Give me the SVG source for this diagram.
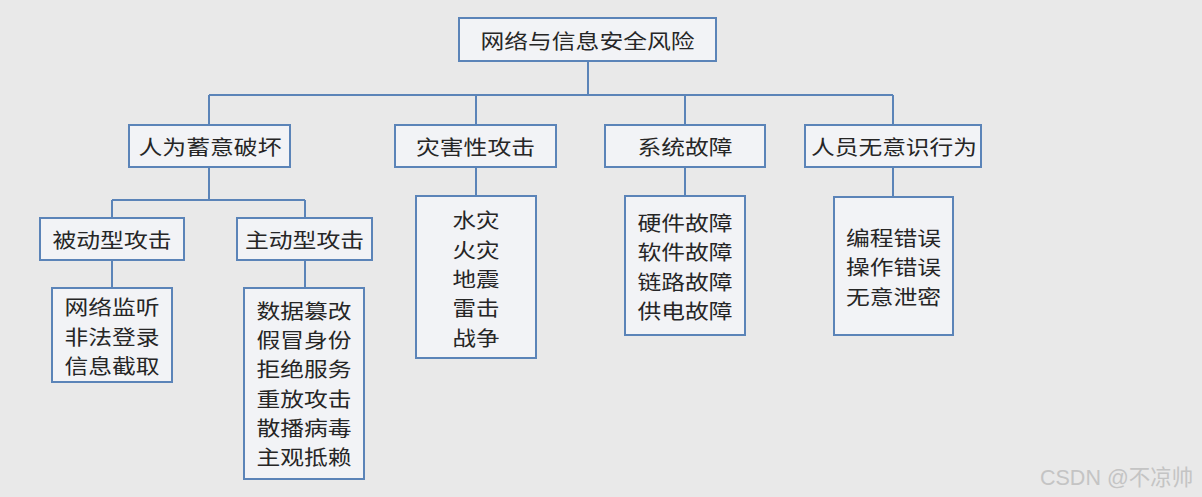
<svg xmlns="http://www.w3.org/2000/svg" width="1202" height="497" viewBox="0 0 1202 497">
<style>
.box{fill:#f2f3f6;stroke:#5b84b8;stroke-width:2}
.ln{fill:none;stroke:#5b84b8;stroke-width:2}
.t{font-family:"Noto Sans CJK SC","Noto Sans CJK JP",sans-serif;font-size:20px;fill:#262626;text-anchor:middle;dominant-baseline:central}
.wm{font-family:"Liberation Sans","Noto Sans CJK SC",sans-serif;font-size:21.5px;fill:#c4c4c4}
</style>
<rect width="1202" height="497" fill="#e9e9e9"/>
<g id="connectors">
<path class="ln" d="M588 61V95M209 95H893M209 95V125M476 95V125M685 95V125M893 95V125"/>
<path class="ln" d="M209 167V200M112 200H305M112 200V218M305 200V218"/>
<path class="ln" d="M112 260V288M305 260V288M476 167V196M685 167V196M893 167V197"/>
</g>
<g id="root">
<rect class="box" x="459" y="18" width="257" height="43"/>
<text class="t" x="587.5" y="40" textLength="214" lengthAdjust="spacingAndGlyphs">网络与信息安全风险</text>
</g>
<g id="n-human">
<rect class="box" x="129" y="125" width="161" height="42"/>
<text class="t" x="210" y="146.5" textLength="143" lengthAdjust="spacingAndGlyphs">人为蓄意破坏</text>
</g>
<g id="n-disaster">
<rect class="box" x="395" y="125" width="161" height="42"/>
<text class="t" x="475.5" y="146.5" textLength="119" lengthAdjust="spacingAndGlyphs">灾害性攻击</text>
</g>
<g id="n-system">
<rect class="box" x="605" y="125" width="160" height="42"/>
<text class="t" x="685" y="146.5" textLength="95" lengthAdjust="spacingAndGlyphs">系统故障</text>
</g>
<g id="n-staff">
<rect class="box" x="805" y="125" width="176" height="42"/>
<text class="t" x="894" y="146.5" textLength="166" lengthAdjust="spacingAndGlyphs">人员无意识行为</text>
</g>
<g id="n-passive">
<rect class="box" x="40" y="218" width="144" height="42"/>
<text class="t" x="112" y="239.5" textLength="119" lengthAdjust="spacingAndGlyphs">被动型攻击</text>
</g>
<g id="n-active">
<rect class="box" x="237" y="218" width="135" height="42"/>
<text class="t" x="304.5" y="239.5" textLength="119" lengthAdjust="spacingAndGlyphs">主动型攻击</text>
</g>
<g id="l-passive">
<rect class="box" x="52" y="288" width="120" height="94"/>
<text class="t" x="112" y="306.5" textLength="95" lengthAdjust="spacingAndGlyphs">网络监听</text>
<text class="t" x="112" y="336" textLength="95" lengthAdjust="spacingAndGlyphs">非法登录</text>
<text class="t" x="112" y="365" textLength="95" lengthAdjust="spacingAndGlyphs">信息截取</text>
</g>
<g id="l-active">
<rect class="box" x="244" y="288" width="120" height="191"/>
<text class="t" x="304" y="310" textLength="95" lengthAdjust="spacingAndGlyphs">数据篡改</text>
<text class="t" x="304" y="339.3" textLength="95" lengthAdjust="spacingAndGlyphs">假冒身份</text>
<text class="t" x="304" y="368.6" textLength="95" lengthAdjust="spacingAndGlyphs">拒绝服务</text>
<text class="t" x="304" y="398" textLength="95" lengthAdjust="spacingAndGlyphs">重放攻击</text>
<text class="t" x="304" y="427.3" textLength="95" lengthAdjust="spacingAndGlyphs">散播病毒</text>
<text class="t" x="304" y="456.6" textLength="95" lengthAdjust="spacingAndGlyphs">主观抵赖</text>
</g>
<g id="l-disaster">
<rect class="box" x="416" y="196" width="120" height="162"/>
<text class="t" x="476" y="219.5" textLength="47" lengthAdjust="spacingAndGlyphs">水灾</text>
<text class="t" x="476" y="249" textLength="47" lengthAdjust="spacingAndGlyphs">火灾</text>
<text class="t" x="476" y="278" textLength="47" lengthAdjust="spacingAndGlyphs">地震</text>
<text class="t" x="476" y="307.5" textLength="47" lengthAdjust="spacingAndGlyphs">雷击</text>
<text class="t" x="476" y="337" textLength="47" lengthAdjust="spacingAndGlyphs">战争</text>
</g>
<g id="l-system">
<rect class="box" x="625" y="196" width="120" height="139"/>
<text class="t" x="685" y="222" textLength="95" lengthAdjust="spacingAndGlyphs">硬件故障</text>
<text class="t" x="685" y="251.5" textLength="95" lengthAdjust="spacingAndGlyphs">软件故障</text>
<text class="t" x="685" y="281" textLength="95" lengthAdjust="spacingAndGlyphs">链路故障</text>
<text class="t" x="685" y="310" textLength="95" lengthAdjust="spacingAndGlyphs">供电故障</text>
</g>
<g id="l-staff">
<rect class="box" x="834" y="197" width="119" height="138"/>
<text class="t" x="893.5" y="237" textLength="95" lengthAdjust="spacingAndGlyphs">编程错误</text>
<text class="t" x="893.5" y="266.5" textLength="95" lengthAdjust="spacingAndGlyphs">操作错误</text>
<text class="t" x="893.5" y="296" textLength="95" lengthAdjust="spacingAndGlyphs">无意泄密</text>
</g>
<text class="wm" x="1040" y="485">CSDN @不凉帅</text>
</svg>
